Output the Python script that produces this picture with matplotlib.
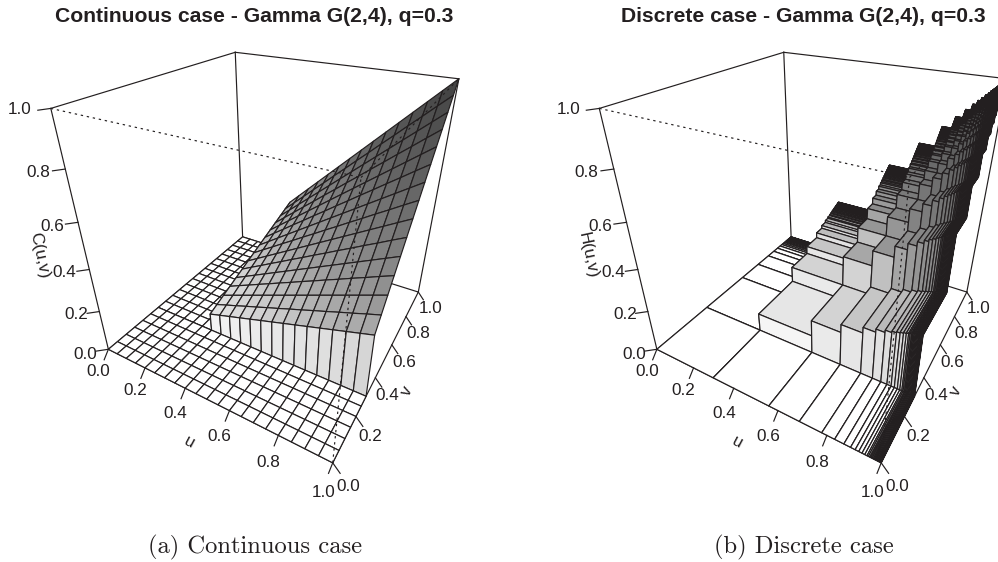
import numpy as np
import matplotlib
matplotlib.use('Agg')
import matplotlib.pyplot as plt
from matplotlib.collections import PolyCollection

# axis ticks
tick_values = [0.0, 0.2, 0.4, 0.6, 0.8, 1.0]
tick_labels = ['0.0', '0.2', '0.4', '0.6', '0.8', '1.0']

# continuous case: grid of u and v from 0.30 up, upper triangle of C(u,v)
cont_levels = [0.30, 0.35, 0.40, 0.45, 0.50, 0.55, 0.60, 0.65, 0.70, 0.75, 0.80, 0.85, 0.90, 0.95, 1.00]
cont_below = [0.0, 0.05, 0.10, 0.15, 0.20, 0.25]
cont_upper = [
    [.090, .105, .120, .135, .150, .165, .180, .195, .210, .225, .240, .255, .270, .285, .300],
    [.123, .140, .158, .175, .193, .210, .228, .245, .263, .280, .298, .315, .333, .350],
    [.160, .180, .200, .220, .240, .260, .280, .300, .320, .340, .360, .380, .400],
    [.203, .225, .248, .270, .293, .315, .338, .360, .383, .405, .428, .450],
    [.250, .275, .300, .325, .350, .375, .400, .425, .450, .475, .500],
    [.303, .330, .358, .385, .413, .440, .468, .495, .523, .550],
    [.360, .390, .420, .450, .480, .510, .540, .570, .600],
    [.423, .455, .488, .520, .553, .585, .618, .650],
    [.490, .525, .560, .595, .630, .665, .700],
    [.563, .600, .638, .675, .713, .750],
    [.640, .680, .720, .760, .800],
    [.723, .765, .808, .850],
    [.810, .855, .900],
    [.903, .950],
    [1.00],
]

# discrete case: jump points of the margins, upper triangle of H(u,v)
disc_levels = [.30, .56, .69, .78, .83, .865, .89, .907, .92, .932, .942, .95, .955, .96,
               .964, .968, .972, .975, .978, .981, .984, .987, .989, .991, .993, .995, .997, .999]
disc_upper = [
    [.090, .168, .207, .234, .249, .260, .267, .272, .276, .280, .283, .285, .287, .288, .289, .290, .292, .293, .293, .294, .295, .296, .297, .297, .298, .299, .299, .300],
    [.314, .386, .437, .465, .484, .498, .508, .515, .522, .528, .532, .535, .538, .540, .542, .544, .546, .548, .549, .551, .553, .554, .555, .556, .557, .558, .559],
    [.476, .538, .573, .597, .614, .626, .635, .643, .650, .656, .659, .662, .665, .668, .671, .673, .675, .677, .679, .681, .682, .684, .685, .687, .688, .689],
    [.608, .647, .675, .694, .707, .718, .727, .735, .741, .745, .749, .752, .755, .758, .761, .763, .765, .768, .770, .771, .773, .775, .776, .778, .779],
    [.689, .718, .739, .753, .764, .774, .782, .789, .793, .797, .800, .803, .807, .809, .812, .814, .817, .819, .821, .823, .824, .826, .828, .829],
    [.748, .770, .785, .796, .806, .815, .822, .826, .830, .834, .837, .841, .843, .846, .849, .851, .854, .855, .857, .859, .861, .862, .864],
    [.792, .807, .819, .829, .838, .846, .850, .854, .858, .862, .865, .868, .870, .873, .876, .878, .880, .882, .884, .886, .887, .889],
    [.823, .834, .845, .854, .862, .866, .871, .874, .878, .882, .884, .887, .890, .892, .895, .897, .899, .901, .902, .904, .906],
    [.846, .857, .867, .874, .879, .883, .887, .891, .894, .897, .900, .903, .905, .908, .910, .912, .914, .915, .917, .919],
    [.869, .878, .885, .890, .895, .898, .902, .906, .909, .912, .914, .917, .920, .922, .924, .925, .927, .929, .931],
    [.887, .895, .900, .904, .908, .912, .916, .918, .921, .924, .927, .930, .932, .934, .935, .937, .939, .941],
    [.903, .907, .912, .916, .920, .923, .926, .929, .932, .935, .938, .940, .941, .943, .945, .947, .949],
    [.912, .917, .921, .924, .928, .931, .934, .937, .940, .943, .944, .946, .948, .950, .952, .954],
    [.922, .925, .929, .933, .936, .939, .942, .945, .948, .949, .951, .953, .955, .957, .959],
    [.929, .933, .937, .940, .943, .946, .949, .951, .953, .955, .957, .959, .961, .963],
    [.937, .941, .944, .947, .950, .953, .955, .957, .959, .961, .963, .965, .967],
    [.945, .948, .951, .954, .956, .959, .961, .963, .965, .967, .969, .971],
    [.951, .954, .956, .959, .962, .964, .966, .968, .970, .972, .974],
    [.956, .959, .962, .965, .967, .969, .971, .973, .975, .977],
    [.962, .965, .968, .970, .972, .974, .976, .978, .980],
    [.968, .971, .973, .975, .977, .979, .981, .983],
    [.974, .976, .978, .980, .982, .984, .986],
    [.978, .980, .982, .984, .986, .988],
    [.982, .984, .986, .988, .990],
    [.986, .988, .990, .992],
    [.990, .992, .994],
    [.994, .996],
    [.998],
]

INK = '#231F20'
LW = 0.85
SANS = 'Liberation Sans'
FS = 12.3

# camera: where the corners of the unit box land on the page (u, v, z, x, y)
camera_points = [
    (0, 0, 0, 108, 349), (1, 0, 0, 333, 463), (1, 1, 0, 418, 292), (0, 1, 0, 243, 237),
    (0, 0, 1, 51, 109), (1, 0, 1, 361, 177), (1, 1, 1, 459, 79), (0, 1, 1, 235, 52),
]
PANEL_SHIFT = 548.5

# label offsets from the axis edge, in pixels, one per tick
u_label_off = [(-10, 22), (-10, 23), (-10, 25), (-10, 26), (-10, 27), (-9, 30)]
v_label_off = [(16, 24), (14, 20), (12, 18), (12, 18), (12, 17), (12, 16)]
z_label_off = [(-23, 5), (-23, 3), (-25, 3), (-26, 4), (-27, 3), (-31, 1)]


def camera_matrix(shift):
    rows = []
    for u, v, z, x, y in camera_points:
        x = x + shift
        rows.append([u, v, z, 1, 0, 0, 0, 0, -x * u, -x * v, -x * z, -x])
        rows.append([0, 0, 0, 0, u, v, z, 1, -y * u, -y * v, -y * z, -y])
    return np.linalg.svd(np.array(rows, float))[2][-1].reshape(3, 4)


def project(cam, u, v, z):
    p = cam @ np.array([u, v, z, 1.0])
    return p[0] / p[2], p[1] / p[2]


def full_table(upper):
    n = len(upper)
    table = np.zeros((n, n))
    for i, row in enumerate(upper):
        table[i, i:] = row
        table[i:, i] = row
    return table


def top_gray(z):
    return np.interp(z, [0, .02, .09, .165, .23, .30, .37, .5, .7, 1],
                     [1, .95, .90, .83, .75, .67, .60, .50, .38, .25])


def wall_gray(z):
    return np.interp(z, [0, .09, .165, .25, .374, .42, .45, .55, .7, 1],
                     [.98, .96, .92, .88, .78, .68, .62, .50, .40, .25])


def draw_surface(ax, cam, us, vs, zz):
    polys, colors = [], []
    for i in range(len(us) - 1):
        for j in range(len(vs) - 2, -1, -1):
            du = us[i + 1] - us[i]
            dv = vs[j + 1] - vs[j]
            if du == 0 and dv == 0:
                continue
            corners = [(i, j), (i + 1, j), (i + 1, j + 1), (i, j + 1)]
            heights = [zz[a, b] for a, b in corners]
            polys.append([project(cam, us[a], vs[b], zz[a, b]) for a, b in corners])
            flat = du > 0 and dv > 0
            colors.append(str(top_gray(np.mean(heights)) if flat else wall_gray(max(heights))))
    ax.add_collection(PolyCollection(polys, facecolors=colors, edgecolors=INK, linewidths=LW, zorder=3))


def box_line(ax, cam, a, b, zorder=2, dotted=False):
    x0, y0 = project(cam, *a)
    x1, y1 = project(cam, *b)
    style = (0, (2.0, 3.2)) if dotted else '-'
    ax.plot([x0, x1], [y0, y1], color=INK, lw=LW, ls=style, zorder=zorder)


def draw_frame(ax, cam):
    for a, b in [((0, 0, 0), (0, 0, 1)), ((0, 0, 1), (0, 1, 1)), ((0, 1, 1), (1, 1, 1)),
                 ((0, 1, 0), (0, 1, 1)), ((1, 1, 0), (1, 1, 1)), ((0, 1, 0), (1, 1, 0)),
                 ((0, 0, 0), (0, 1, 0)), ((0, 0, 0), (1, 0, 0)), ((1, 0, 0), (1, 1, 0))]:
        box_line(ax, cam, a, b)
    for a, b in [((0, 0, 1), (1, 0, 1)), ((1, 0, 1), (1, 1, 1)), ((1, 0, 0), (1, 0, 1))]:
        box_line(ax, cam, a, b, zorder=4, dotted=True)


def draw_axes(ax, cam, zname, shift):
    for n, (val, lab) in enumerate(zip(tick_values, tick_labels)):
        # (point on the edge, tick offset in pixels, label offset in pixels)
        marks = [
            ((val, 0, 0), (-4.2, 10.5), u_label_off[n]),
            ((1, val, 0), (7.4 - 2.4 * val, 10.5 - 2.8 * val), v_label_off[n]),
            ((0, 0, val), (-12 - val, 1.8), z_label_off[n]),
        ]
        for point, tick, off in marks:
            x, y = project(cam, *point)
            ax.plot([x, x + tick[0]], [y, y + tick[1]], color=INK, lw=LW, zorder=5)
            ax.text(x + off[0], y + off[1], lab, ha='center', va='center', fontsize=FS, family=SANS, color=INK)
    ax.text(189 + shift, 442, 'u', rotation=-28, ha='center', va='center', fontsize=FS, family=SANS, color=INK)
    ax.text(407 + shift, 391, 'v', rotation=62, ha='center', va='center', fontsize=FS, family=SANS, color=INK)
    ax.text(39 + shift, 255, zname, rotation=-78, ha='center', va='center', fontsize=FS, family=SANS, color=INK)


def continuous_surface():
    table = full_table(cont_upper)
    nb = len(cont_below)
    grid = cont_below + [cont_levels[0]] + cont_levels
    zz = np.zeros((len(grid), len(grid)))
    zz[nb + 1:, nb + 1:] = table
    return np.array(grid), np.array(grid), zz


def discrete_surface():
    table = full_table(disc_upper)
    grid = [0.0]
    level = [0]
    for n, k in enumerate(disc_levels):
        grid += [k, k]
        level += [n, n + 1]
    grid.append(1.0)
    level.append(len(disc_levels))
    zz = np.zeros((len(grid), len(grid)))
    for a, la in enumerate(level):
        for b, lb in enumerate(level):
            if la > 0 and lb > 0:
                zz[a, b] = table[la - 1, lb - 1]
    return np.array(grid), np.array(grid), zz


fig = plt.figure(figsize=(9.98, 5.62), dpi=100)
ax = fig.add_axes([0, 0, 1, 1])
ax.set_xlim(0, 998)
ax.set_ylim(562, 0)
ax.axis('off')

panels = [
    (0, continuous_surface, 'C(u,v)', 'Continuous case - Gamma G(2,4), q=0.3', '(a) Continuous case', 254, 255),
    (PANEL_SHIFT, discrete_surface, 'H(u,v)', 'Discrete case - Gamma G(2,4), q=0.3', '(b) Discrete case', 803, 803.5),
]
for shift, surface, zname, title, caption, title_x, caption_x in panels:
    cam = camera_matrix(shift)
    draw_frame(ax, cam)
    us, vs, zz = surface()
    draw_surface(ax, cam, us, vs, zz)
    draw_axes(ax, cam, zname, shift)
    ax.text(title_x, 16, title, ha='center', va='center', fontsize=15.2, fontweight='bold', family=SANS, color=INK)
    ax.text(caption_x, 547, caption, ha='center', va='center', fontsize=17.7, family='cmr10', color=INK)

fig.savefig('out.png', dpi=100)
